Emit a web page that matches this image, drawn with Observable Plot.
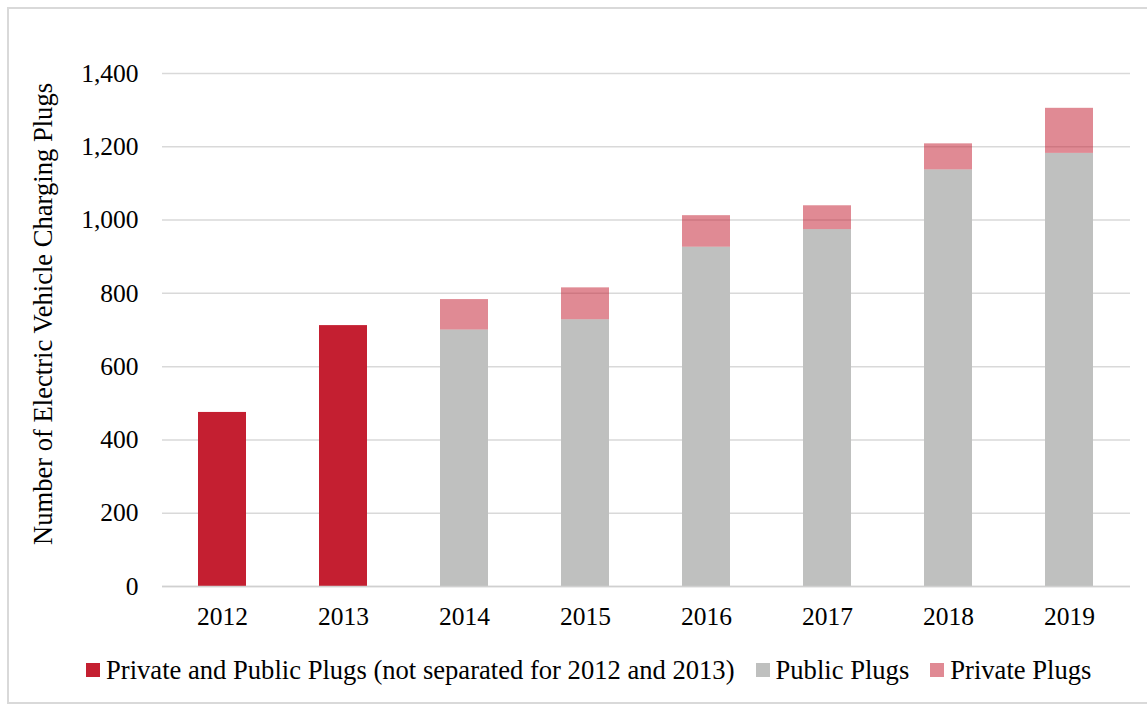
<!DOCTYPE html>
<html>
<head>
<meta charset="utf-8">
<script src="https://cdn.jsdelivr.net/npm/d3@7"></script>
<script src="https://cdn.jsdelivr.net/npm/@observablehq/plot@0.6"></script>
<style>
  body { margin: 0; background: #fff; font-family: "Liberation Serif", "Times New Roman", serif; }
  #frame { position: absolute; left: 7px; top: 7px; width: 1160px; height: 697px; border: 2px solid #d9d9d9; box-sizing: border-box; }
  #chart { position: absolute; left: 0; top: 0; }
  #legend { position: absolute; left: 86px; top: 655px; display: flex; align-items: center; font-size: 26.6px; line-height: 30px; color: #000; white-space: nowrap; }
  .item { display: flex; align-items: center; margin-right: 21px; }
  .sw { width: 14px; height: 14px; margin-right: 6px; }
</style>
</head>
<body>
<div id="frame"></div>
<div id="chart"></div>
<div id="legend"></div>
<script>
// Electric vehicle charging plugs per year
const years = ["2012", "2013", "2014", "2015", "2016", "2017", "2018", "2019"];
const combinedPlugs = [475, 712, null, null, null, null, null, null]; // not split for 2012-2013
const publicPlugs   = [null, null, 700, 728, 926, 974, 1137, 1182];
const privatePlugs  = [null, null, 83, 87, 86, 65, 71, 123];
const yTicks = [0, 200, 400, 600, 800, 1000, 1200, 1400];

const seriesNames = [
  "Private and Public Plugs (not separated for 2012 and 2013)",
  "Public Plugs",
  "Private Plugs"
];
const seriesColors = ["#c41f31", "#bfc0bf", "#c41f31"];
const seriesOpacity = [1, 1, 0.52];

// long-form table for stacking: combined / public first, private on top
const rows = [];
years.forEach((year, i) => {
  [combinedPlugs, publicPlugs, privatePlugs].forEach((values, s) => {
    if (values[i] != null) {
      rows.push({year, series: seriesNames[s], value: values[i], color: seriesColors[s], alpha: seriesOpacity[s]});
    }
  });
});

const chart = Plot.plot({
  width: 1147,
  height: 645,
  marginTop: 73,
  marginBottom: 59,
  marginLeft: 162,
  marginRight: 17,
  style: {fontFamily: '"Liberation Serif", "Times New Roman", serif', fontSize: "25.5px", color: "#000", background: "transparent"},
  x: {domain: years, paddingInner: 0.6, paddingOuter: 0.3, label: null},
  y: {domain: [0, 1400], label: null},
  color: {type: "identity"},
  opacity: {type: "identity"},
  marks: [
    Plot.gridY(yTicks, {stroke: "#d9d9d9", strokeOpacity: 1, strokeWidth: 1.5}),
    Plot.barY(rows, {x: "year", y: "value", fill: "color", fillOpacity: "alpha", z: "series"}),
    Plot.ruleY([0], {stroke: "#d0d0d0", strokeWidth: 1.5}),
    Plot.axisY(yTicks, {tickSize: 0, tickPadding: 24, tickFormat: d3.format(","), label: null}),
    Plot.axisX({tickSize: 0, tickPadding: 20, label: null}),
    Plot.text(["Number of Electric Vehicle Charging Plugs"], {
      frameAnchor: "left", textAnchor: "middle", rotate: -90, dx: -119, dy: -16, fontSize: 26.6, fill: "#000"
    })
  ]
});
document.getElementById("chart").appendChild(chart);

// legend below the plot
const legend = document.getElementById("legend");
seriesNames.forEach((name, s) => {
  const item = document.createElement("div");
  item.className = "item";
  const sw = document.createElement("span");
  sw.className = "sw";
  sw.style.background = seriesColors[s];
  sw.style.opacity = seriesOpacity[s];
  const label = document.createElement("span");
  label.textContent = name;
  item.appendChild(sw);
  item.appendChild(label);
  legend.appendChild(item);
});
</script>
</body>
</html>
